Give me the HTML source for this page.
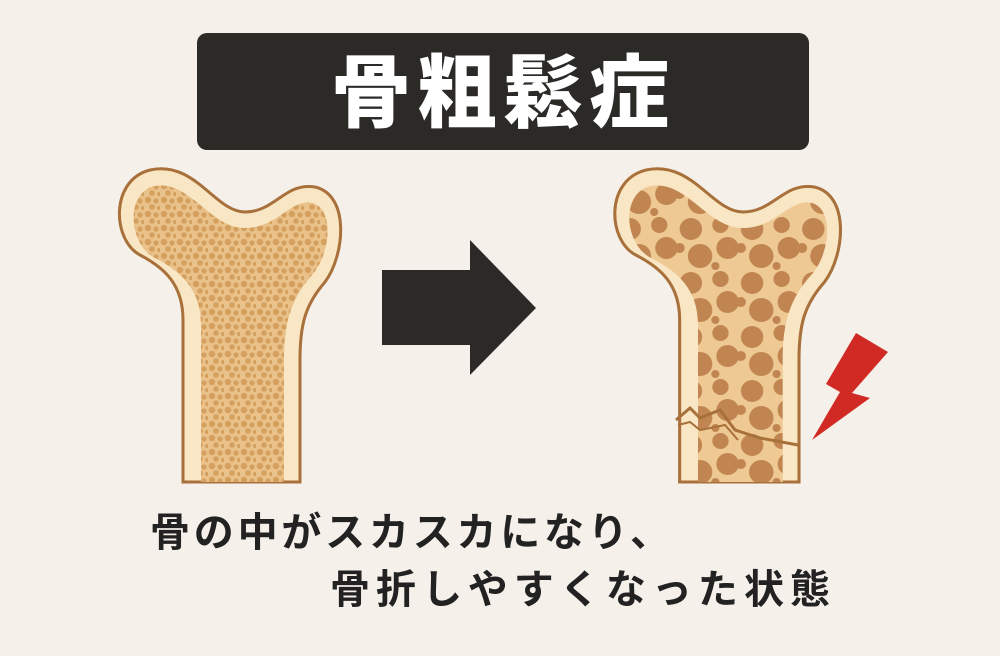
<!DOCTYPE html>
<html><head><meta charset="utf-8"><style>
html,body{margin:0;padding:0;background:#f5f0ea;}
svg{display:block}
</style></head><body>
<svg width="1000" height="656" viewBox="0 0 1000 656" xmlns="http://www.w3.org/2000/svg">
<defs>
<pattern id="sm" width="16" height="14" patternUnits="userSpaceOnUse">
<rect width="16" height="14" fill="#e9c189"/>
<circle cx="4" cy="4" r="3.2" fill="#d4a060"/>
<circle cx="12" cy="5" r="2.6" fill="#d4a060"/>
<circle cx="8" cy="11" r="2.8" fill="#d4a060"/>
<circle cx="15" cy="12" r="2" fill="#d4a060"/>
</pattern>
<pattern id="lg" width="60" height="54" patternUnits="userSpaceOnUse">
<rect width="60" height="54" fill="#eec993"/>
<circle cx="14" cy="13" r="11" fill="#c08550"/>
<circle cx="43" cy="9" r="8" fill="#c08550"/>
<circle cx="50" cy="32" r="11" fill="#c08550"/>
<circle cx="23" cy="40" r="12" fill="#c08550"/>
<circle cx="3" cy="32" r="5" fill="#c08550"/>
<circle cx="38" cy="50" r="4" fill="#c08550"/>
</pattern>
<path id="outer" d="M183,482 L183,320 C183,285 165,268 140,255 C112,240 110,180 150,170 C195,160 215,212 245,212 C275,212 285,182 315,187 C350,195 345,255 325,282 C305,305 300,325 300,360 L300,482 Z"/>
<path id="inner" d="M201,482 L201,325 C201,290 182,272 155,258 C128,244 125,192 155,186 C190,180 210,228 245,228 C278,228 290,198 313,203 C335,210 330,255 312,275 C292,298 284,320 284,360 L284,482 Z"/>
</defs>
<rect x="197" y="33" width="612" height="117" rx="10" fill="#2b2a27"/>
<text x="503" y="121" text-anchor="middle" font-family="'Liberation Sans','Noto Sans CJK JP',sans-serif" font-weight="900" font-size="80" fill="#fff" letter-spacing="6">骨粗鬆症</text>

<use href="#outer" fill="#f9e6c4" stroke="#a8703a" stroke-width="3"/>
<use href="#inner" fill="url(#sm)"/>

<g transform="translate(493,0) scale(1.02,1)">
<use href="#outer" fill="#f9e6c4" stroke="#a8703a" stroke-width="3"/>
<use href="#inner" fill="url(#lg)"/>
</g>
<path d="M676,420 L690,408 L700,418 L720,410 L735,430 L760,438 L798,445" fill="none" stroke="#a8703a" stroke-width="3"/>
<path d="M678,425 L690,422 L700,430 L725,425 L738,440" fill="none" stroke="#a8703a" stroke-width="2"/>

<rect x="382" y="270" width="90" height="75" fill="#2b2a27"/>
<polygon points="470,240 536,308 470,375" fill="#2b2a27"/>

<polygon points="856,333 888,352 852,393 870,398 812,440 840,392 826,384" fill="#d12a24"/>

<text x="150" y="546" font-family="'Liberation Sans','Noto Sans CJK JP',sans-serif" font-weight="700" font-size="40" fill="#222" textLength="520">骨の中がスカスカになり、</text>
<text x="330" y="603" font-family="'Liberation Sans','Noto Sans CJK JP',sans-serif" font-weight="700" font-size="40" fill="#222" textLength="500">骨折しやすくなった状態</text>
</svg>
</body></html>
